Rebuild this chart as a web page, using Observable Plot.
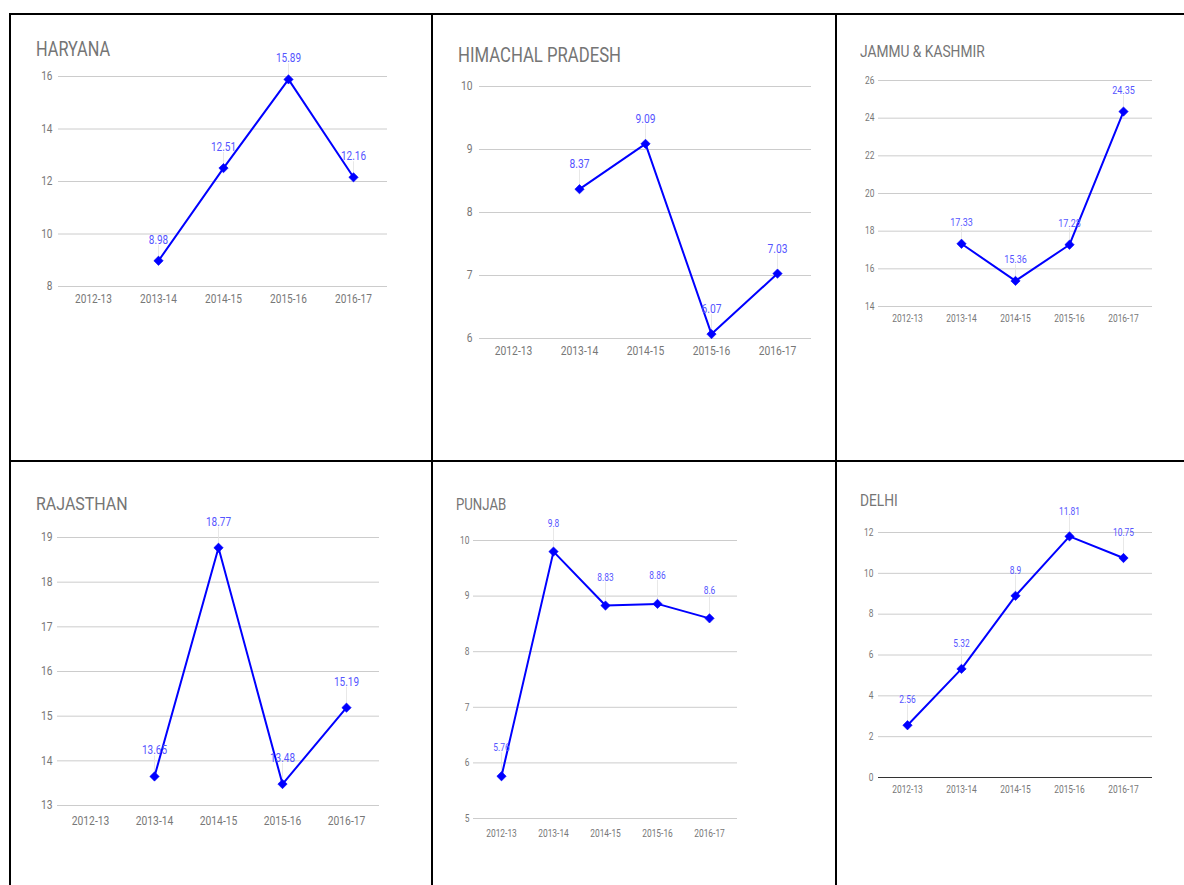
<!DOCTYPE html>
<html>
<head>
<meta charset="utf-8">
<script src="https://cdn.jsdelivr.net/npm/d3@7"></script>
<script src="https://cdn.jsdelivr.net/npm/@observablehq/plot@0.6"></script>
<style>
  body { margin: 0; background: #fff; }
  #wrap { position: relative; width: 1184px; height: 885px; overflow: hidden; font-family: Roboto, "Noto Sans", sans-serif; background: #fff; }
  .panel { position: absolute; }
  .title { position: absolute; color: #757575; white-space: nowrap; line-height: 1; font-family: Roboto, sans-serif; transform-origin: 0 50%; }
  .bline { position: absolute; background: #000; }
</style>
</head>
<body>
<div id="wrap"></div>
<script>
// ---- data ----
const years = ["2012-13", "2013-14", "2014-15", "2015-16", "2016-17"];
const states = ["HARYANA", "HIMACHAL PRADESH", "JAMMU & KASHMIR", "RAJASTHAN", "PUNJAB", "DELHI"];
const haryana = [null, 8.98, 12.51, 15.89, 12.16];
const himachal = [null, 8.37, 9.09, 6.07, 7.03];
const jammuKashmir = [null, 17.33, 15.36, 17.28, 24.35];
const rajasthan = [null, 13.65, 18.77, 13.48, 15.19];
const punjab = [5.76, 9.8, 8.83, 8.86, 8.6];
const delhi = [2.56, 5.32, 8.9, 11.81, 10.75];
const yTicksHaryana = [8, 10, 12, 14, 16];
const yTicksHimachal = [6, 7, 8, 9, 10];
const yTicksJK = [14, 16, 18, 20, 22, 24, 26];
const yTicksRajasthan = [13, 14, 15, 16, 17, 18, 19];
const yTicksPunjab = [5, 6, 7, 8, 9, 10];
const yTicksDelhi = [0, 2, 4, 6, 8, 10, 12];

// ---- layout (positions / styles only) ----
const SX = 0.84; // horizontal condensation of all text
const panels = [
  {name: states[0], vals: haryana, ticks: yTicksHaryana, cell: [10, 15, 421, 445], grid: [58, 76, 387, 286],
   tickFs: 12, yPad: 6, xPad: 7.5, labFs: 11.9, dy: -21, titleX: 36, titleY: 50, titleFs: 19.4},
  {name: states[1], vals: himachal, ticks: yTicksHimachal, cell: [433, 15, 402, 445], grid: [479, 86, 811, 338],
   tickFs: 12.3, yPad: 7, xPad: 7.5, labFs: 12.2, dy: -25, titleX: 458, titleY: 56, titleFs: 19.9},
  {name: states[2], vals: jammuKashmir, ticks: yTicksJK, cell: [837, 15, 347, 445], grid: [878, 80, 1152, 306],
   tickFs: 10, yPad: 4, xPad: 8, labFs: 10.7, dy: -21, titleX: 860, titleY: 52, titleFs: 16.4},
  {name: states[3], vals: rajasthan, ticks: yTicksRajasthan, cell: [10, 462, 421, 423], grid: [57, 537, 379, 805],
   tickFs: 12.3, yPad: 5, xPad: 10.5, labFs: 11.9, dy: -26, titleX: 36, titleY: 503, titleFs: 19},
  {name: states[4], vals: punjab, ticks: yTicksPunjab, cell: [433, 462, 402, 423], grid: [473, 540, 737, 818],
   tickFs: 10, yPad: 4, xPad: 11.5, labFs: 10, dy: -28, titleX: 456, titleY: 505, titleFs: 15.7},
  {name: states[5], vals: delhi, ticks: yTicksDelhi, cell: [837, 462, 347, 423], grid: [878, 532, 1152, 777],
   tickFs: 10, yPad: 5, xPad: 8.5, labFs: 10, dy: -25, titleX: 860, titleY: 501, titleFs: 16.4, darkBase: true}
];

const wrap = document.getElementById("wrap");

const leader = {
  draw(context, l) { context.moveTo(0, 0); context.lineTo(0, -l); }
};

for (const p of panels) {
  const [cx, cy, cw, ch] = p.cell;
  const [gx0, gy0, gx1, gy1] = p.grid;
  const rows = years.map((yr, i) => ({year: yr, v: p.vals[i]})).filter(d => d.v != null);
  const lo = p.ticks[0], hi = p.ticks[p.ticks.length - 1];
  const marks = [
    Plot.gridY(p.ticks, {stroke: "#cccccc", strokeOpacity: 1, strokeWidth: 1}),
    Plot.axisY(p.ticks, {tickSize: 0, tickPadding: p.yPad, fontSize: p.tickFs, fill: "#777", label: null, tickFormat: d => String(d)}),
    Plot.axisX({tickSize: 0, tickPadding: p.xPad, fontSize: p.tickFs, fill: "#777", label: null}),
  ];
  if (p.darkBase) marks.push(Plot.ruleY([lo], {stroke: "#333", strokeWidth: 1.2}));
  marks.push(
    Plot.vector(rows, {x: "year", y: "v", length: -p.dy - p.labFs * 0.45, rotate: 0, anchor: "start", shape: leader, stroke: "#e2e2e2", strokeWidth: 0.8}),
    Plot.line(rows, {x: "year", y: "v", stroke: "#0000ff", strokeWidth: 2}),
    Plot.dot(rows, {x: "year", y: "v", symbol: "diamond2", r: 4.2, fill: "#0000ff", stroke: "#0000ff", strokeWidth: 0.6}),
    Plot.text(rows, {x: "year", y: "v", text: d => String(d.v), dy: p.dy, fill: "#5555ff", fontSize: p.labFs})
  );
  const chart = Plot.plot({
    width: cw, height: ch,
    marginLeft: gx0 - cx, marginRight: cx + cw - gx1,
    marginTop: gy0 - cy, marginBottom: cy + ch - gy1,
    style: {fontFamily: "Roboto, sans-serif", background: "transparent", overflow: "visible"},
    x: {type: "point", domain: years, padding: 0.5, axis: null},
    y: {domain: [lo, hi], axis: null},
    marks
  });
  // condense text horizontally around each label's own anchor
  chart.querySelectorAll("text").forEach(t => {
    const tr = t.getAttribute("transform") || "";
    t.setAttribute("transform", tr + ` scale(${SX},1)`);
  });
  chart.classList.add("panel");
  chart.style.left = cx + "px";
  chart.style.top = cy + "px";
  wrap.appendChild(chart);

  const t = document.createElement("div");
  t.className = "title";
  t.textContent = p.name;
  t.style.fontSize = p.titleFs + "px";
  t.style.left = p.titleX + "px";
  t.style.top = (p.titleY - p.titleFs * 0.5) + "px";
  t.style.transform = `scaleX(${SX})`;
  wrap.appendChild(t);
}

// frame lines
const lines = [
  [9, 13, 1175, 2.2], // top
  [9, 13, 2.2, 872],  // left
  [431, 13, 2.2, 872],
  [835, 13, 2.2, 872],
  [9, 460, 1175, 2.2]
];
for (const [l, t, w, h] of lines) {
  const d = document.createElement("div");
  d.className = "bline";
  Object.assign(d.style, {left: l + "px", top: t + "px", width: w + "px", height: h + "px"});
  wrap.appendChild(d);
}
</script>
</body>
</html>
